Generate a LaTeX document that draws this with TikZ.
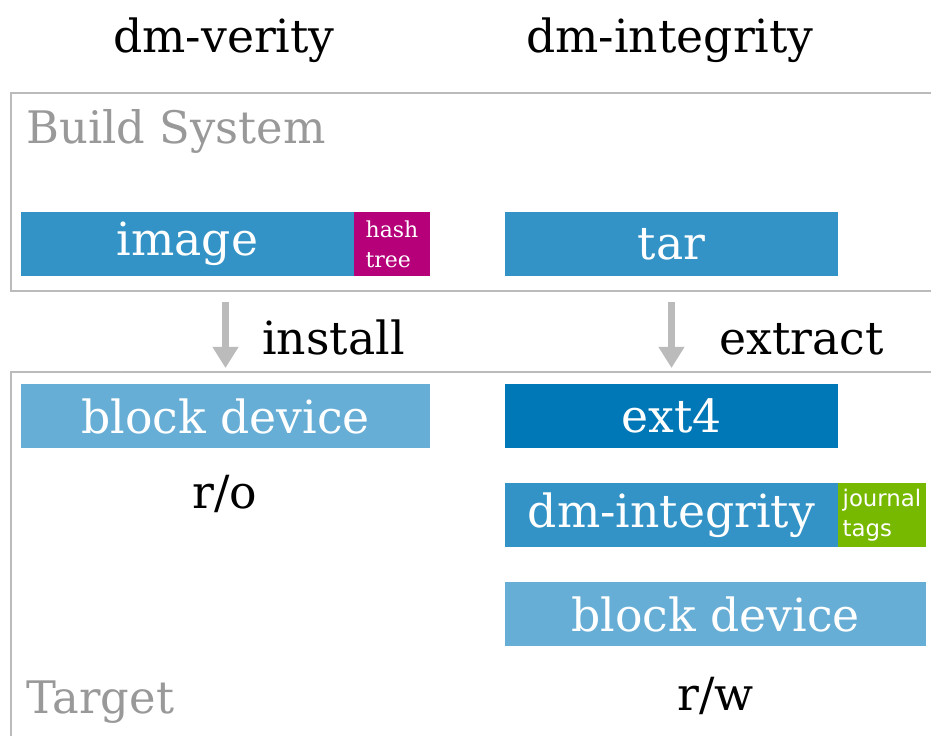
\documentclass[tikz,border=0pt]{standalone}
\usepackage{fontspec}
\setmainfont{DejaVu Serif}
\newfontfamily\tagfont{DejaVu Sans}
\usetikzlibrary{arrows.meta, positioning}
\definecolor{dmblue}{HTML}{3393C6}
\definecolor{dmlight}{HTML}{67AED6}
\definecolor{dmdark}{HTML}{0077B6}
\definecolor{dmmagenta}{HTML}{B5007A}
\definecolor{dmgreen}{HTML}{77B900}
\definecolor{dmframe}{HTML}{BBBBBB}
\definecolor{dmlabel}{HTML}{999999}

\begin{document}
\begin{tikzpicture}[
  x=0.02cm, y=-0.02cm,
  layer/.style={
    rectangle,
    fill=#1,
    text=white,
    minimum height=1.28cm,
    inner sep=0pt,
    outer sep=0pt,
    font=\fontsize{26}{30}\selectfont
  },
  tag/.style={
    rectangle,
    fill=#1,
    text=white,
    minimum height=1.28cm,
    inner sep=0pt,
    outer sep=0pt,
    align=left
  },
  heading/.style={anchor=base, inner sep=0pt, font=\fontsize{26}{30}\selectfont},
  stage/.style={anchor=base west, inner sep=0pt, text=dmlabel, font=\fontsize{25.5}{30}\selectfont},
  frame/.style={draw=dmframe, line width=1.2pt},
  flow/.style={draw=dmframe, line width=4.5pt, -{Triangle[width=14pt,length=12pt]}}
]
  \clip (0,0) rectangle (931,735);

  % the two stages
  \draw[frame] (11,93) rectangle (960,291);
  \draw[frame] (11,372) rectangle (960,760);
  \node[stage] (build) at (26,143) {Build System};
  \node[stage] (target) at (26,713) {Target};

  \node[heading] (verity) at (224,52) {dm-verity};
  \node[heading] (integrity) at (670,52) {dm-integrity};

  % dm-verity column
  \node[layer=dmblue, minimum width=6.66cm] (image) at (187.5,244) {image};
  \node[tag=dmmagenta, minimum width=1.52cm, font=\fontsize{12.5}{17}\selectfont,
        right=0pt of image] (hash) {hash\\tree};
  \node[layer=dmlight, minimum width=8.18cm] (blockro) at (225.5,416) {block device};
  \node[heading] (ro) at (225,508) {r/o};

  % dm-integrity column
  \node[layer=dmblue, minimum width=6.66cm] (tar) at (671.5,244) {tar};
  \node[layer=dmdark, minimum width=6.66cm] (ext) at (671.5,416) {ext4};
  \node[layer=dmblue, minimum width=6.66cm] (integ) at (671.5,515) {dm-integrity};
  \node[tag=dmgreen, minimum width=1.76cm, font=\tagfont\fontsize{13}{17}\selectfont,
        right=0pt of integ] (journal) {journal\\tags};
  \node[layer=dmlight, minimum width=8.42cm] (blockrw) at (715.5,614) {block device};
  \node[heading] (rw) at (715.5,710) {r/w};

  \draw[flow, shorten <=0.52cm, shorten >=0.32cm] (blockro.north |- image.south) -- (blockro.north);
  \draw[flow, shorten <=0.52cm, shorten >=0.32cm] (tar.south) -- (ext.north);
  \node[heading, anchor=base west] (install) at (262,354) {install};
  \node[heading, anchor=base west] (extract) at (719,354) {extract};
\end{tikzpicture}
\end{document}
